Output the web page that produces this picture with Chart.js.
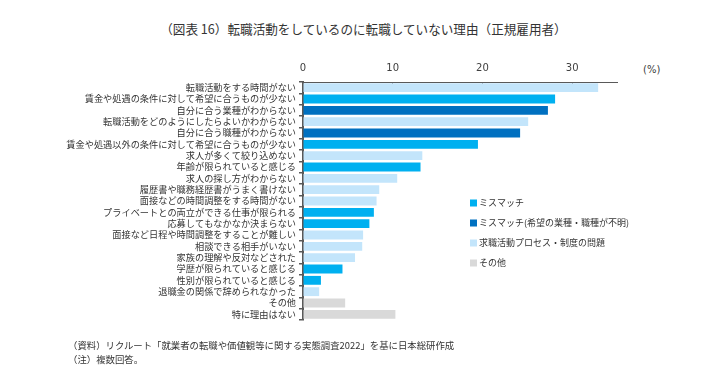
<!DOCTYPE html>
<html lang="ja">
<head>
<meta charset="utf-8">
<script src="https://cdn.jsdelivr.net/npm/chart.js@4"></script>
<style>
  body { margin: 0; background: #fff; }
  #wrap { position: relative; width: 717px; height: 367px; overflow: hidden;
          font-family: "Noto Sans CJK JP", sans-serif; color: #333; }
  #chart { position: absolute; left: 0; top: 0; }
  .title { position: absolute; left: 0; width: 727px; top: 19px; text-align: center; font-size: 12.6px; }
  .unit { position: absolute; left: 643px; top: 64px; font-size: 10px; color: #404040; font-family: "DejaVu Sans", sans-serif; }
  .note { position: absolute; left: 68px; font-size: 9.4px; white-space: nowrap; }
</style>
</head>
<body>
<div id="wrap">
  <div class="title">（図表 16）転職活動をしているのに転職していない理由（正規雇用者）</div>
  <div class="unit">(%)</div>
  <canvas id="chart" width="717" height="367"></canvas>
  <div class="note" style="top:338px">（資料）リクルート「就業者の転職や価値観等に関する実態調査2022」を基に日本総研作成</div>
  <div class="note" style="top:352px">（注）複数回答。</div>
</div>
<script>
// 理由（上から順）
const categories = [
  "転職活動をする時間がない",
  "賃金や処遇の条件に対して希望に合うものが少ない",
  "自分に合う業種がわからない",
  "転職活動をどのようにしたらよいかわからない",
  "自分に合う職種がわからない",
  "賃金や処遇以外の条件に対して希望に合うものが少ない",
  "求人が多くて絞り込めない",
  "年齢が限られていると感じる",
  "求人の探し方がわからない",
  "履歴書や職務経歴書がうまく書けない",
  "面接などの時間調整をする時間がない",
  "プライベートとの両立ができる仕事が限られる",
  "応募してもなかなか決まらない",
  "面接など日程や時間調整をすることが難しい",
  "相談できる相手がいない",
  "家族の理解や反対などされた",
  "学歴が限られていると感じる",
  "性別が限られていると感じる",
  "退職金の関係で辞められなかった",
  "その他",
  "特に理由はない"
];
const values = [32.9, 28.1, 27.3, 25.1, 24.2, 19.5, 13.3, 13.1, 10.5, 8.5, 8.2,
                7.9, 7.4, 6.7, 6.6, 5.8, 4.4, 2.0, 1.8, 4.7, 10.3];
// 各理由の分類（groupNames の番号）
const groupOf = [2, 0, 1, 2, 1, 0, 2, 0, 2, 2, 2, 0, 0, 2, 2, 2, 0, 0, 2, 3, 3];
const groupNames = ["ミスマッチ", "ミスマッチ(希望の業種・職種が不明)", "求職活動プロセス・制度の問題", "その他"];
const groupColors = ["#00B0F0", "#0070C0", "#C3E5FB", "#D9D9D9"];
const xTicks = [0, 10, 20, 30];

const datasets = groupNames.map((name, g) => ({
  label: name,
  data: values.map((v, i) => groupOf[i] === g ? v : null),
  backgroundColor: groupColors[g],
  barPercentage: 0.78,
  categoryPercentage: 1
}));

// 凡例はグラフの右下に手書き
const legendPlugin = {
  id: "sideLegend",
  afterDraw(chart) {
    const ctx = chart.ctx;
    ctx.save();
    ctx.font = "9px 'Noto Sans CJK JP'";
    ctx.textBaseline = "middle";
    groupNames.forEach((name, g) => {
      const y = 203 + g * 20;
      ctx.fillStyle = groupColors[g];
      ctx.fillRect(470, y - 3.5, 7, 7);
      ctx.fillStyle = "#333";
      ctx.fillText(name, 479, y);
    });
    ctx.restore();
  }
};

new Chart(document.getElementById("chart"), {
  type: "bar",
  data: { labels: categories, datasets: datasets },
  options: {
    indexAxis: "y",
    responsive: false,
    animation: false,
    layout: { padding: { left: 0, top: 0, right: 100, bottom: 47 } },
    plugins: { legend: { display: false }, tooltip: { enabled: false } },
    scales: {
      x: {
        position: "top",
        stacked: true,
        min: 0,
        max: 35,
        afterBuildTicks: scale => { scale.ticks = xTicks.map(v => ({ value: v })); },
        afterFit: scale => { scale.height = 82; },
        ticks: { color: "#404040", font: { family: "DejaVu Sans", size: 10 }, padding: 12 },
        grid: { drawOnChartArea: false, tickLength: -4, color: "#595959" },
        border: { color: "#595959", width: 1 }
      },
      y: {
        stacked: true,
        afterFit: scale => { scale.width = 303; },
        ticks: { autoSkip: false, color: "#333", font: { family: "Noto Sans CJK JP", size: 9.2 }, padding: 3 },
        grid: { drawOnChartArea: false, tickLength: 4, color: "#595959", lineWidth: 1.5 },
        border: { color: "#595959", width: 2 }
      }
    }
  },
  plugins: [legendPlugin]
});
</script>
</body>
</html>
